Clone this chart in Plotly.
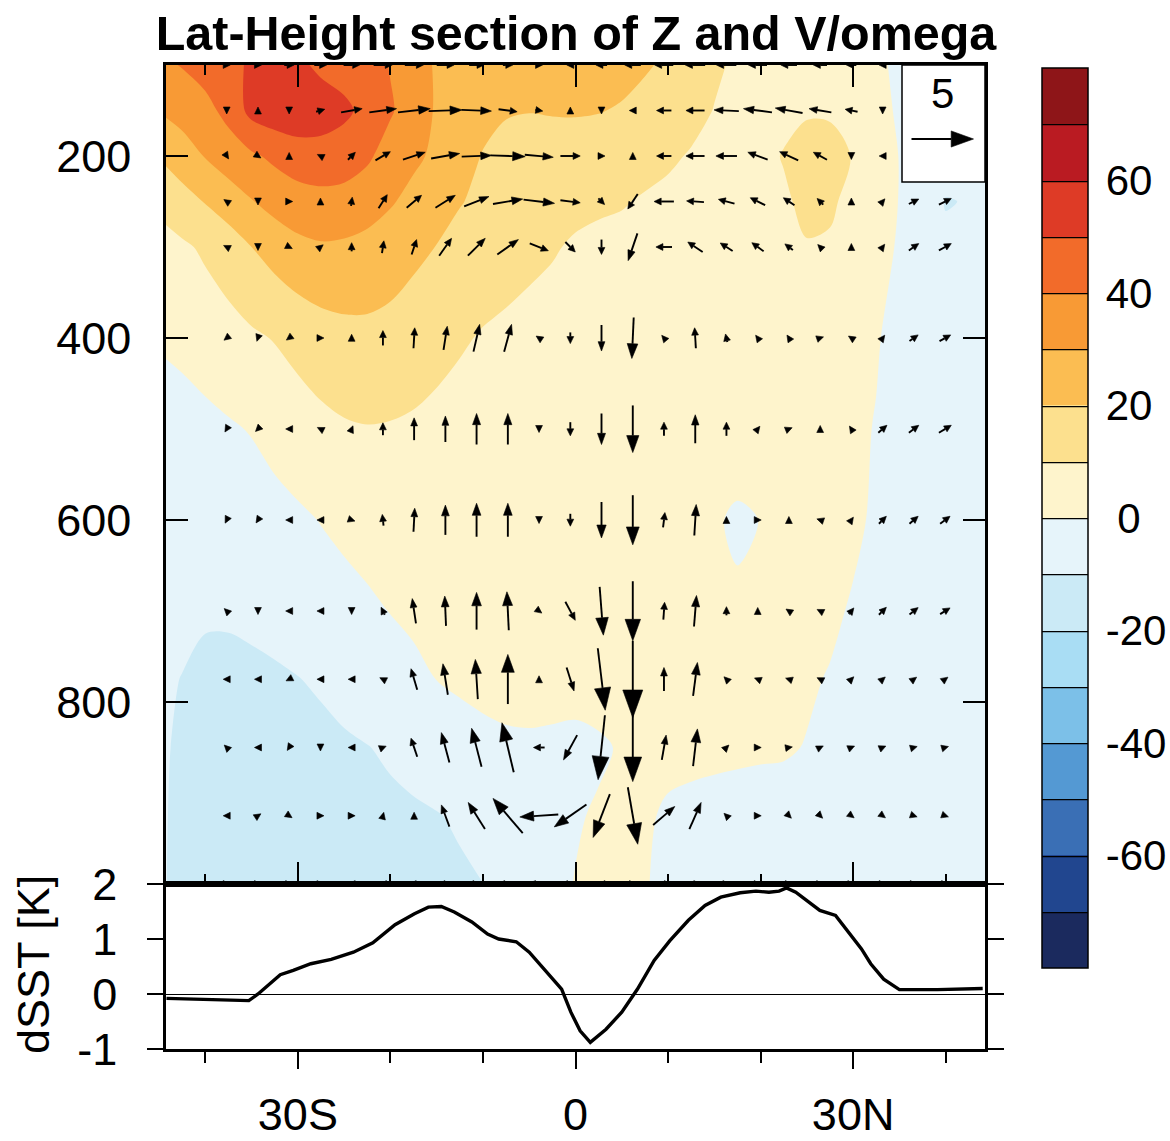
import math
import plotly.graph_objects as go

# ---------------- data ----------------
LAT = [-45, -42.5, -40, -37.5, -35, -32.5, -30, -27.5, -25, -22.5, -20, -17.5, -15, -12.5,
       -10, -7.5, -5, -2.5, 0, 2.5, 5, 7.5, 10, 12.5, 15, 17.5, 20, 22.5, 25, 27.5, 30,
       32.5, 35, 37.5, 40, 42.5, 45]
PLEV = [100, 150, 200, 250, 300, 400, 500, 600, 700, 775, 850, 925, 1000]

z100 = [38, 40.5, 44, 48, 51, 54, 52, 48, 46, 44, 39.5, 34, 29, 28, 27, 26, 26, 25, 25, 24, 23, 21, 18.5, 15, 11, 9, 8, 7, 6, 4.5, 3, 1, -1, -2, -3, -4, -4]
z150 = [30.5, 34, 37, 43, 53, 56, 57, 55, 52, 47, 41, 35, 29, 26, 23, 20.5, 20.2, 20.6, 20.8, 20.4, 19.2, 17, 14.5, 12, 9.8, 8.5, 8.5, 9, 9.6, 9.5, 7, 2.5, -1, -2.5, -3.5, -4, -4.5]
z200 = [20.5, 25, 30.5, 35, 38.5, 42, 45, 46, 45, 41.5, 36, 32, 28, 24, 19.5, 18, 17, 16, 15.5, 15, 14, 12.5, 11, 9.5, 8, 8, 9, 10.2, 11.5, 11.5, 9.8, 4, -0.2, -3, -6, -5.5, -4]
z250 = [12.5, 16.5, 20.5, 25, 29.5, 33.5, 36, 37, 36.5, 34.5, 31, 27, 23.5, 20.5, 18, 16, 14, 12.5, 11.5, 11, 10.5, 9.3, 8.5, 8, 7.5, 7.5, 8.2, 9.5, 10.8, 10.8, 8.5, 4.5, -0.3, -5, -10.4, -9.6, -6]
z300 = [6, 8.5, 11.5, 15, 20, 24, 27.5, 29, 28.5, 27, 24.5, 22, 19.8, 17, 15, 13, 11.5, 10.5, 9.3, 8.5, 8, 7.5, 7, 6.8, 6.7, 7, 7.6, 8.7, 9.8, 9.4, 7.5, 3.5, -1, -5, -8.5, -8, -6]
z400 = [1, 2.5, 4.5, 6.5, 8.5, 10.5, 13, 15.5, 17, 17.5, 17, 15.5, 13, 11, 9.3, 8.5, 8, 7.5, 7, 6.5, 6, 5.5, 5, 5, 5, 5, 5, 5, 5, 4, 2.5, 0.5, -2, -4, -5, -5.5, -6]
z500 = [-5, -4, -2.5, -1, 0.5, 3, 5.5, 7.5, 9, 9.6, 9.3, 8.5, 7.5, 6.5, 6, 5.5, 5, 4.8, 4.5, 4.3, 4, 3.8, 3.5, 3.3, 3, 3, 3, 3, 2.8, 2.2, 1.2, -0.3, -2, -3.5, -4, -4.5, -5]
z600 = [-7, -7, -6.5, -5.5, -4.5, -3, -1.5, 0.3, 2, 3.5, 4.5, 5, 5, 4.8, 4.5, 4.2, 4, 3.8, 3.5, 3.3, 3, 2.8, 2.5, 2, 0.6, -0.8, 0.1, 1.5, 2, 1.8, 1, -0.8, -2.5, -3.5, -4, -4.5, -5]
z700 = [-8.5, -9, -9.5, -9.3, -8.5, -7.5, -6, -4.5, -3, -1.5, 0.2, 1.5, 2.5, 3, 3.2, 3.3, 3.3, 3.2, 3, 3, 2.8, 2.6, 2.4, 2, 1.3, 0.8, 1.2, 1.6, 1.5, 0.9, -0.5, -1.8, -3, -3.5, -4, -4.5, -5]
z775 = [-9.3, -10.1, -11, -11.5, -11.5, -11, -10.2, -9, -7.5, -5.5, -3.5, -1.8, 0.1, 1.5, 2.5, 3, 3, 2.5, 2.2, 2.5, 2.8, 2.5, 2.2, 2, 1.8, 1.5, 1.3, 1, 0.6, -0.3, -1.5, -2.5, -3, -3.5, -4, -4.5, -5]
z850 = [-9.5, -10.5, -12, -13, -13.5, -13.5, -13, -12, -11, -10.2, -9, -7.5, -6, -4, -2.5, -1.5, -1.2, -1.3, -1.5, -0.8, 0.5, 1, 1.2, 1.2, 1, 0.8, 0.6, 0.5, -0.2, -1, -1.5, -2, -2.5, -3, -3.5, -4, -4.5]
z925 = [-9.5, -10.8, -12.5, -13.5, -14, -14, -13.5, -13, -12.5, -12, -11.5, -11, -10.3, -9.2, -6.5, -3.5, -2.5, -1.5, -0.5, 0.6, 1, 0.6, -0.6, -1.2, -1.5, -1.7, -1.8, -2, -2.2, -2.5, -2.6, -2.8, -3, -3.2, -3.5, -3.8, -4]
z1000 = [-9.5, -11, -13, -14.5, -15, -15, -14.5, -14, -13.5, -13, -12.5, -12, -11.5, -11, -10.1, -6, -3.5, -1.5, 0.2, 0.8, 0.9, 0.2, -0.8, -1.3, -1.6, -1.8, -2, -2.2, -2.4, -2.6, -2.8, -3, -3.2, -3.4, -3.6, -3.8, -4]
Z = [z100, z150, z200, z250, z300, z400, z500, z600, z700, z775, z850, z925, z1000]

# vector grid (every third point of a 1.125 deg grid)
VLAT = [-37.69, -34.31, -30.94, -27.56, -24.19, -20.81, -17.44, -14.06, -10.69, -7.31, -3.94, -0.56,
        2.81, 6.19, 9.56, 12.94, 16.31, 19.69, 23.06, 26.44, 29.81, 33.19, 36.56, 39.94]
VLEV = [100, 150, 200, 250, 300, 400, 500, 600, 700, 775, 850, 925, 1000]

v100 = [0.3, 0.5, 0.8, 1.0, 1.3, 1.5, 1.5, 1.4, 1.2, 0.8, 0.4, -0.4, -0.9, -1.3, -1.5, -1.6, -1.6, -1.5, -1.3, -1.1, -0.8, -0.5, -0.3, -0.2]
w100 = [0, 0, 0, 0, 0, 0, 0, 0, 0, 0, 0, 0, 0, 0, 0, 0, 0, 0, 0, 0, 0, 0, 0, 0]
v150 = [0, 0, 0, 0.7, 1.7, 2.2, 2.6, 2.7, 2.4, 1.5, 0.6, 0, 0, -0.5, -1.2, -1.5, -2.0, -2.3, -2.2, -1.8, -1.0, 0, -0.3, -0.3]
w150 = [-0.3, 0.3, -0.4, 0.2, 0.3, 0.3, 0.3, 0.1, -0.1, -0.2, -0.1, 0.2, -0.3, 0, 0, 0, 0.1, 0.3, 0.4, 0.3, 0.2, -0.3, 0, 0]
v200 = [0.2, 0.3, 0, -0.4, 0.6, 1.2, 1.8, 2.3, 2.4, 2.8, 2.3, 1.6, 0.5, 0, -1.2, -1.5, -1.7, -1.6, -1.5, -1.1, 0, -0.4, 0.3, 0.5]
w200 = [-0.3, -0.2, 0.4, 0.2, 0.6, 0.7, 0.6, 0.4, 0.1, -0.1, -0.2, 0, 0, 0.4, 0, 0, 0, 0.6, 0.7, 0.6, -0.3, 0, 0.2, 0.3]
v250 = [-0.3, 0, 0.35, 0, 0.1, 0.7, 1.2, 1.6, 2.0, 2.4, 2.5, 1.6, 0.5, -0.8, -1.6, -1.4, -1.3, -1.2, -0.9, -0.5, 0, 0.3, 0.8, 1.0]
w250 = [0.2, -0.3, 0, 0.35, 0.7, 1.1, 1.0, 1.0, 0.8, 0.4, -0.3, -0.2, -0.5, -1.2, 0, 0.1, 0.35, 0.6, 0.6, 0.5, 0.35, 0.35, 0.4, 0.5]
v300 = [-0.3, 0, 0.3, 0.25, 0, 0.15, 0.4, 1.0, 1.4, 1.7, 1.5, 0.8, 0, -0.75, -1.3, -1.2, -1.0, -0.95, -0.65, -0.3, 0, 0.3, 0.8, 1.0]
w300 = [0.15, -0.3, -0.15, 0.2, 0.7, 1.0, 1.2, 1.4, 1.4, 1.2, -0.6, -0.8, -1.2, -2.2, 0, 0.8, 0.65, 0.7, 0.5, 0.3, 0.35, 0.4, 0.55, 0.55]
v400 = [-0.25, -0.1, -0.2, 0.3, 0, 0, 0.1, 0.3, 0.5, 0.6, -0.3, 0, 0, -0.15, -0.3, -0.1, -0.15, -0.3, -0.2, 0.3, -0.3, 0.3, 0.7, 0.9]
w400 = [-0.2, -0.3, -0.15, 0, 0.6, 1.2, 1.65, 1.9, 2.2, 2.2, 0.2, -0.9, -2.1, -3.3, 0.35, 1.65, 0.65, 0.4, 0.3, 0.1, 0.2, 0.4, 0.5, 0.5]
v500 = [-0.15, -0.15, -0.3, -0.2, 0.15, 0, 0, 0, 0, 0, 0, 0, 0, 0, 0, 0, 0, 0.2, 0.25, 0, -0.2, 0.7, 0.8, 1.0]
w500 = [-0.25, -0.15, 0, 0.1, 0.35, 1.0, 1.8, 2.1, 2.5, 2.5, -0.35, -1.1, -2.5, -3.8, 1.1, 2.3, 1.1, 0.25, 0.1, 0.3, 0.3, 0.6, 0.6, 0.6]
v600 = [-0.1, -0.1, -0.3, -0.3, 0.3, -0.1, 0.1, 0, 0, 0, 0, 0, 0, 0, 0.15, 0.15, 0, 0.3, 0, -0.3, 0.25, 0.6, 0.7, 0.8]
w600 = [-0.2, -0.15, 0, 0, -0.1, 0.9, 1.9, 2.4, 2.7, 2.7, -0.3, -1.0, -2.9, -4.0, 1.2, 2.5, 0.45, 0, 0.3, 0.1, 0.35, 0.6, 0.6, 0.6]
v700 = [-0.1, 0, -0.3, -0.3, 0, -0.3, -0.3, -0.1, 0, -0.15, 0.4, 0.8, 0.3, 0, 0.1, 0.2, 0, 0, -0.3, -0.3, 0.4, 0.6, 0.7, 0.8]
w700 = [0.1, -0.1, 0, 0, -0.2, 0.6, 2.0, 2.4, 3.0, 3.1, -0.3, -1.5, -3.9, -4.8, 1.4, 2.5, 0.7, 0.35, 0.2, 0.15, 0.5, 0.6, 0.55, 0.5]
v775 = [-0.2, -0.2, -0.2, -0.2, -0.3, -0.3, -0.5, -0.4, -0.2, 0, 0, 0.6, 0.6, 0, 0, 0.35, -0.2, -0.25, -0.3, -0.3, 0.3, 0.35, 0.4, 0.4]
w775 = [0, 0, -0.1, 0, 0, 0.15, 1.7, 2.5, 3.2, 4.0, 0.3, -1.9, -5.0, -6.2, 1.9, 2.7, 0.2, 0.1, 0.1, 0.15, 0.3, 0.3, 0.3, 0.3]
v850 = [-0.1, -0.2, -0.1, 0, -0.2, 0.25, -0.5, -0.65, -0.8, -0.95, -0.9, -1.1, -0.55, 0, 0.35, 0.35, 0.2, 0.3, 0.3, 0.3, 0.35, 0.35, 0.35, 0.35]
w850 = [0.1, 0, -0.15, -0.15, 0, 0.1, 1.5, 2.4, 3.1, 4.0, 0, -2.0, -5.2, -5.5, 2.0, 3.0, 0.2, 0, 0.05, 0.15, 0.15, 0.15, 0.1, 0.1]
v925 = [-0.2, 0.15, 0.15, 0.2, 0.2, 0.05, 0, -0.65, -1.35, -2.4, -3.1, -2.6, -1.35, 0.8, 1.75, 0.95, -0.2, 0.3, 0.15, 0.15, 0.2, 0.2, 0.3, 0.3]
w925 = [0, 0.1, -0.1, 0, 0, 0.2, 0.4, 1.75, 2.15, 2.8, -0.2, -1.8, -3.5, -4.6, 1.5, 2.15, 0.2, 0, -0.15, -0.15, -0.15, -0.15, -0.1, -0.1]
v1000 = [0.1, 0.1, 0.1, 0.1, -0.1, -0.3, -0.8, -1.2, -1.6, -1.8, -2.0, -1.6, -0.5, 0.6, 1.2, 0.9, 0.4, 0.2, 0.2, 0.2, 0.2, 0.2, 0.2, 0.2]
w1000 = [0, 0, 0, 0, 0, 0, 0, 0, 0, 0, 0, 0, 0, 0, 0, 0, 0, 0, 0, 0, 0, 0, 0, 0]
VV = [v100, v150, v200, v250, v300, v400, v500, v600, v700, v775, v850, v925, v1000]
WW = [w100, w150, w200, w250, w300, w400, w500, w600, w700, w775, w850, w925, w1000]
REF_MAG = 5

SST_LAT = [-44.2, -35.3, -34.3, -31.9, -30.5, -28.6, -26.4, -24.0, -21.9, -19.5, -17.4, -15.9, -14.5,
           -13.1, -11.2, -9.5, -8.3, -6.4, -5.0, -3.3, -1.5, -0.5, 0.5, 1.6, 3.3, 5.0, 6.7, 8.5,
           10.2, 12.2, 14.0, 15.7, 17.8, 19.5, 20.9, 22.0, 22.8, 23.8, 25.0, 26.4, 28.1, 29.8,
           30.9, 31.9, 33.3, 35.0, 39.1, 44.0]
SST_VAL = [-0.08, -0.12, 0.0, 0.35, 0.43, 0.55, 0.63, 0.76, 0.93, 1.26, 1.46, 1.58, 1.59,
           1.49, 1.31, 1.09, 1.0, 0.95, 0.76, 0.43, 0.09, -0.33, -0.67, -0.88, -0.64, -0.33, 0.09, 0.61,
           0.97, 1.34, 1.61, 1.76, 1.84, 1.87, 1.85, 1.87, 1.93, 1.85, 1.70, 1.52, 1.43, 1.06,
           0.82, 0.55, 0.27, 0.08, 0.08, 0.10]

LEVELS = dict(start=-70, end=70, size=10)
CB_RANGE = [-80, 80]
COLORS = ['#1B2A5E', '#21468F', '#3A6FB5', '#5499D3', '#7CC0E8', '#A9DDF4', '#CBEAF6', '#E6F4FA',
          '#FEF4CC', '#FCE08E', '#FBBD52', '#F89A35', '#F26B2A', '#DE3B26', '#BA1B22', '#8E1518']
CB_TICKS = [-60, -40, -20, 0, 20, 40, 60]
CB_TEXT = ['-60', '-40', '-20', '\u00a00', '20', '40', '60']
X_TICKS = [-30, 0, 30]
X_TEXT = ['30S', '0', '30N']
X_MINOR = [-40, -20, -10, 10, 20, 40]
P_TICKS = [200, 400, 600, 800]
SST_TICKS = [-1, 0, 1, 2]
SST_TEXT = ['-1', '0', '1', '2']

# ---------------- layout geometry ----------------
W_FIG, H_FIG = 1170, 1141
ML, MR, MT, MB = 166, 185, 65, 92
PLOT_W = W_FIG - ML - MR
PLOT_H = H_FIG - MT - MB
TOP_H = 819
SPLIT = 1 - TOP_H / PLOT_H
XR = [-44.25, 44.25]
YR = [1000, 100]
PX_PER_DEG = PLOT_W / (XR[1] - XR[0])
PX_PER_HPA = TOP_H / (YR[0] - YR[1])
PX_PER_UNIT = 62.0 / REF_MAG
FONT = "Liberation Sans, Arial, Helvetica, sans-serif"

# discrete colour scale matching plotly's fill-level mapping (bands centred at level+5)
fill_scale = []
bounds = [k / 15 for k in range(15)] + [0.99, 1.0]
for k, c in enumerate(COLORS):
    fill_scale.append([bounds[k], c])
    fill_scale.append([bounds[k + 1], c])
# equal-step scale for the colour key over CB_RANGE
key_scale = []
for k, c in enumerate(COLORS):
    key_scale.append([k / len(COLORS), c])
    key_scale.append([(k + 1) / len(COLORS), c])


def arrow(lat, p, u, w):
    dx = u * PX_PER_UNIT
    dy = w * PX_PER_UNIT
    L = math.hypot(dx, dy)
    if L < 0.5:
        return None
    ux, uy = dx / L, dy / L
    Ld = max(L, 7.0)
    hl = max(0.36 * Ld, min(Ld, 7.0))
    hw = max(0.13 * Ld, 3.4)
    tail = (-Ld / 2 * ux, -Ld / 2 * uy)
    tip = (Ld / 2 * ux, Ld / 2 * uy)
    base = (tip[0] - hl * ux, tip[1] - hl * uy)
    left = (base[0] - hw * uy, base[1] + hw * ux)
    right = (base[0] + hw * uy, base[1] - hw * ux)

    def to_data(pt):
        return (lat + pt[0] / PX_PER_DEG, p - pt[1] / PX_PER_HPA)
    shaft = [to_data(tail), to_data(base)] if Ld - hl > 0.5 else None
    head = [to_data(tip), to_data(left), to_data(right), to_data(tip)]
    return shaft, head


sx, sy, hx, hy = [], [], [], []
for j, p in enumerate(VLEV):
    for i, lat in enumerate(VLAT):
        res = arrow(lat, p, VV[j][i], WW[j][i])
        if res is None:
            continue
        shaft, head = res
        if shaft:
            sx += [shaft[0][0], shaft[1][0], None]
            sy += [shaft[0][1], shaft[1][1], None]
        hx += [q[0] for q in head] + [None]
        hy += [q[1] for q in head] + [None]

fig = go.Figure()
fig.add_trace(go.Contour(
    x=LAT, y=PLEV, z=Z, colorscale=fill_scale, autocontour=False,
    contours=dict(coloring='fill', showlines=False, **LEVELS),
    line=dict(width=0, smoothing=0.9), showscale=False, hoverinfo='skip',
    xaxis='x', yaxis='y'))
# colour key (trace placed outside the visible range, only its colour bar shows)
fig.add_trace(go.Contour(
    x=[300, 301], y=[500, 600], z=[[0, 1], [1, 0]], colorscale=key_scale,
    zmin=CB_RANGE[0], zmax=CB_RANGE[1], autocontour=False,
    contours=dict(coloring='heatmap', showlines=True, **LEVELS),
    line=dict(width=1.2, color='black'), showscale=True, hoverinfo='skip',
    colorbar=dict(x=(1042 - ML) / PLOT_W, xanchor='left', xpad=0,
                  y=(H_FIG - MB - 518) / PLOT_H, yanchor='middle', ypad=0,
                  len=900, lenmode='pixels', thickness=46,
                  outlinewidth=1.5, outlinecolor='black',
                  tickvals=CB_TICKS, ticktext=CB_TEXT, ticks='outside', ticklen=9,
                  tickcolor='rgba(0,0,0,0)',
                  tickfont=dict(size=42, color='black', family=FONT)),
    xaxis='x', yaxis='y'))
fig.add_trace(go.Scatter(x=sx, y=sy, mode='lines', line=dict(color='black', width=1.9),
                         hoverinfo='skip', showlegend=False, xaxis='x', yaxis='y'))
fig.add_trace(go.Scatter(x=hx, y=hy, mode='lines', fill='toself', fillcolor='black',
                         line=dict(color='black', width=0.6),
                         hoverinfo='skip', showlegend=False, xaxis='x', yaxis='y'))
fig.add_trace(go.Scatter(x=SST_LAT, y=SST_VAL, mode='lines', line=dict(color='black', width=3.4),
                         hoverinfo='skip', showlegend=False, xaxis='x2', yaxis='y2'))

# reference vector box
ref_lat = XR[1] - (985 - 942.5) / PX_PER_DEG
ref_p = YR[1] + (139 - 65) / PX_PER_HPA
shaft, head = arrow(ref_lat, ref_p, REF_MAG, 0)
shapes = [
    dict(type='rect', xref='x domain', yref='y domain', x0=(902 - ML) / PLOT_W, x1=1,
         y0=1 - 117 / TOP_H, y1=1, fillcolor='white', line=dict(color='black', width=1.5),
         layer='above'),
    dict(type='line', xref='x', yref='y', x0=shaft[0][0], y0=shaft[0][1],
         x1=shaft[1][0], y1=shaft[1][1], line=dict(color='black', width=1.9), layer='above'),
    dict(type='path', xref='x', yref='y', layer='above', fillcolor='black',
         line=dict(color='black', width=0.6),
         path='M {} {} L {} {} L {} {} Z'.format(head[0][0], head[0][1], head[1][0], head[1][1],
                                                  head[2][0], head[2][1])),
]
annotations = [
    dict(text=str(REF_MAG), xref='x', yref='y', x=ref_lat, y=YR[1] + (93 - 65) / PX_PER_HPA,
         showarrow=False, font=dict(size=42, color='black', family=FONT),
         xanchor='center', yanchor='middle'),
    dict(text='dSST [K]', xref='paper', yref='paper', x=(33 - ML) / PLOT_W,
         y=(H_FIG - MB - 965) / PLOT_H, textangle=-90, showarrow=False,
         font=dict(size=45, color='black', family=FONT), xanchor='center', yanchor='middle'),
]

axis_common = dict(showgrid=False, showline=True, linecolor='black', linewidth=2.5,
                   tickcolor='black', tickwidth=2)
fig.update_layout(
    width=W_FIG, height=H_FIG, margin=dict(l=ML, r=MR, t=MT, b=MB, autoexpand=False),
    paper_bgcolor='white', plot_bgcolor='white', showlegend=False,
    font=dict(family=FONT, color='black'),
    title=dict(text='<b>Lat-Height section of Z and V/omega</b>', x=576 / W_FIG, xref='container',
               y=1 - 33 / H_FIG, yref='container', xanchor='center', yanchor='middle',
               font=dict(size=48.5, color='black', family=FONT)),
    xaxis=dict(domain=[0, 1], anchor='y', range=XR, tickvals=X_TICKS, ticks='inside',
               ticklen=22, showticklabels=False, mirror='allticks', zeroline=False,
               minor=dict(tickvals=X_MINOR, ticks='inside', ticklen=10,
                          tickcolor='black', tickwidth=2), **axis_common),
    yaxis=dict(domain=[SPLIT, 1], anchor='x', range=YR, tickvals=P_TICKS,
               ticks='inside', ticklen=22, mirror='allticks', ticklabelstandoff=23, zeroline=False,
               tickfont=dict(size=45, color='black', family=FONT), **axis_common),
    xaxis2=dict(domain=[0, 1], anchor='y2', range=XR, tickvals=X_TICKS,
                ticktext=X_TEXT, ticks='outside', ticklen=17, mirror=True, zeroline=False,
                ticklabelstandoff=7, tickfont=dict(size=45, color='black', family=FONT),
                minor=dict(tickvals=X_MINOR, ticks='outside', ticklen=11,
                           tickcolor='black', tickwidth=2), **axis_common),
    yaxis2=dict(domain=[0, SPLIT], anchor='x2', range=[-1, 2], tickvals=SST_TICKS,
                ticktext=SST_TEXT, ticks='outside', ticklen=16, mirror='allticks',
                ticklabelstandoff=21, tickfont=dict(size=45, color='black', family=FONT),
                zeroline=True, zerolinecolor='black', zerolinewidth=1.2, **axis_common),
    shapes=shapes, annotations=annotations,
)

fig.write_html("out.html")
